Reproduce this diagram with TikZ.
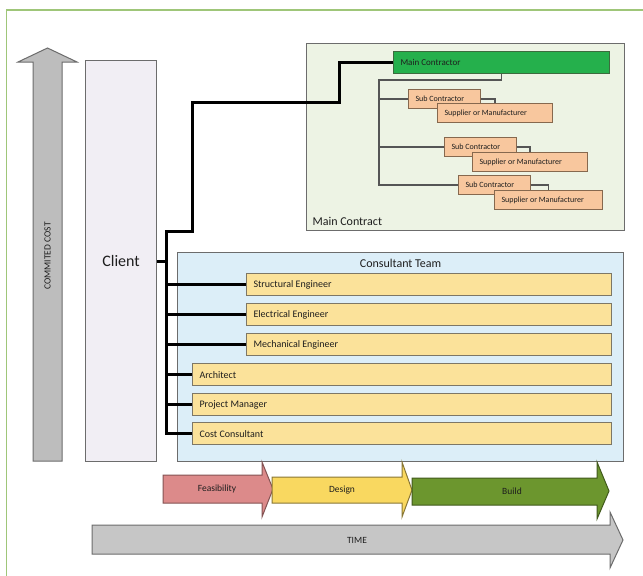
\documentclass[tikz,border=0pt]{standalone}
\usepackage{fontspec}
\setmainfont{Carlito}
\definecolor{frame}{HTML}{9FC679}
\definecolor{edgegray}{HTML}{6C6C6C}
\definecolor{txt}{HTML}{1E1E1E}
\definecolor{costfill}{HTML}{BDBDBD}
\definecolor{clientfill}{HTML}{F1EEF4}
\definecolor{mainfill}{HTML}{EDF3E4}
\definecolor{mcfill}{HTML}{25B04C}
\definecolor{mcedge}{HTML}{3C6B3E}
\definecolor{subfill}{HTML}{F8C79E}
\definecolor{subedge}{HTML}{86684E}
\definecolor{teamfill}{HTML}{DCEEF8}
\definecolor{rolefill}{HTML}{FBE29A}
\definecolor{roleedge}{HTML}{7D7766}
\definecolor{feasfill}{HTML}{DC8A8A}
\definecolor{desfill}{HTML}{F9D860}
\definecolor{buildfill}{HTML}{6C962E}
\definecolor{timefill}{HTML}{C6C6C6}
\definecolor{treeline}{HTML}{555555}
\tikzset{
  box/.style={draw=edgegray, line width=1.2pt, anchor=north west, inner sep=0pt, text=txt},
  subbox/.style={box, draw=subedge, fill=subfill, minimum width=72pt, minimum height=19pt,
    label={[anchor=west, xshift=4pt, text=txt, font=\fontsize{8}{9}\selectfont]west:Sub Contractor}},
  supbox/.style={box, draw=subedge, fill=subfill, minimum height=19pt,
    label={[anchor=west, xshift=4pt, text=txt, font=\fontsize{8}{9}\selectfont]west:Supplier or Manufacturer}},
  rolebox/.style={box, draw=roleedge, fill=rolefill, minimum height=22pt,
    label={[anchor=west, xshift=4pt, text=txt, font=\fontsize{10}{12}\selectfont]west:#1}},
  phase/.style={line width=1pt, line join=miter},
  phasetext/.style={text=txt, font=\fontsize{9.5}{11}\selectfont},
  tree/.style={draw=treeline, line width=1.3pt},
  link/.style={draw=black, line width=3pt, line join=miter},
}
\begin{document}
\begin{tikzpicture}[x=1pt,y=-1pt]
\useasboundingbox (0,0) rectangle (643,576);
\fill[white] (0,0) rectangle (643,576);

% frame lines along the top and the left side
\draw[frame, line width=1.5pt] (6.5,576) -- (6.5,10) -- (643,10);

% committed cost arrow, pointing up
\draw[phase, draw=edgegray, fill=costfill]
  (33,461) -- (33,62) -- (18,62) -- (47.5,48) -- (77,62) -- (62,62) -- (62,461) -- cycle;
\node[rotate=90, text=txt, font=\fontsize{9.5}{10}\selectfont] (costlabel) at (47.5,256) {COMMITED COST};

% client column
\node[box, fill=clientfill, minimum width=71pt, minimum height=401pt,
      font=\fontsize{16}{18}\selectfont] (client) at (85,60) {Client};

% main contract group
\node[box, fill=mainfill, minimum width=318pt, minimum height=187pt] (maincontract) at (306,43) {};
\node[anchor=south west, text=txt, font=\fontsize{12}{14}\selectfont] (mclabel)
  at ([xshift=3pt, yshift=2pt]maincontract.south west) {Main Contract};
\node[box, draw=mcedge, fill=mcfill, minimum width=216pt, minimum height=22pt,
      label={[anchor=west, xshift=4pt, text=txt, font=\fontsize{9}{10}\selectfont]west:Main Contractor}]
      (maincontractor) at (393,51) {};

\node[subbox] (sub1) at (408,89) {};
\node[subbox] (sub2) at (444,137) {};
\node[subbox] (sub3) at (458,175) {};
\node[supbox, minimum width=115pt] (sup1) at (437,103) {};
\node[supbox, minimum width=115pt] (sup2) at (472,152) {};
\node[supbox, minimum width=108pt] (sup3) at (494,190) {};

% contractor tree
\coordinate (trunk) at (379,80);
\draw[tree] (maincontractor.south) |- (trunk) |- (sub3.west);
\draw[tree] (sub1.west) -- (sub1.west -| trunk);
\draw[tree] (sub2.west) -- (sub2.west -| trunk);
\draw[tree] (sub1.east) -| (sup1.north);
\draw[tree] (sub2.east) -| (sup2.north);
\draw[tree] (sub3.east) -| (sup3.north);

% consultant team group
\node[box, fill=teamfill, minimum width=446pt, minimum height=209pt] (team) at (177,252) {};
\node[anchor=north, text=txt, font=\fontsize{12}{14}\selectfont] (teamlabel)
  at ([yshift=-4pt]team.north) {Consultant Team};
\node[rolebox=Structural Engineer, minimum width=365pt] (structural) at (246,273) {};
\node[rolebox=Electrical Engineer, minimum width=365pt] (electrical) at (246,303) {};
\node[rolebox=Mechanical Engineer, minimum width=365pt] (mechanical) at (246,333) {};
\node[rolebox=Architect, minimum width=419pt] (architect) at (192,363) {};
\node[rolebox=Project Manager, minimum width=419pt] (pm) at (192,393) {};
\node[rolebox=Cost Consultant, minimum width=419pt] (costcons) at (192,422) {};

% client links
\coordinate (busx) at (166,0);
\coordinate (j1) at (339,102);
\coordinate (j2) at (192,231);
\draw[link] (maincontractor.west) -| (j1) -| (j2) -| (costcons.west -| busx) -- (costcons.west);
\draw[link] (client.east) -- (client.east -| busx);
\foreach \r in {structural, electrical, mechanical, architect, pm}
  \draw[link] (\r.west) -- (\r.west -| busx);

% project phases
\draw[phase, draw=feasfill!60!black, fill=feasfill]
  (163,475) -- (262,475) -- (262,462) -- (273,489) -- (262,517) -- (262,503) -- (163,503) -- cycle;
\node[phasetext] (feas) at (217,489) {Feasibility};
\draw[phase, draw=desfill!55!black, fill=desfill]
  (272,477) -- (402,477) -- (402,462) -- (412,490) -- (402,517) -- (402,503) -- (272,503) -- cycle;
\node[phasetext] (design) at (342,490) {Design};
\draw[phase, draw=buildfill!60!black, fill=buildfill]
  (412,478) -- (597,478) -- (597,462) -- (609,491) -- (597,519) -- (597,505) -- (412,505) -- cycle;
\node[phasetext] (build) at (512,491) {Build};

% time arrow
\draw[phase, draw=edgegray, fill=timefill]
  (92,525) -- (610,525) -- (610,512) -- (623,540) -- (610,568) -- (610,554) -- (92,554) -- cycle;
\node[phasetext] (time) at (357,540) {TIME};
\end{tikzpicture}
\end{document}
